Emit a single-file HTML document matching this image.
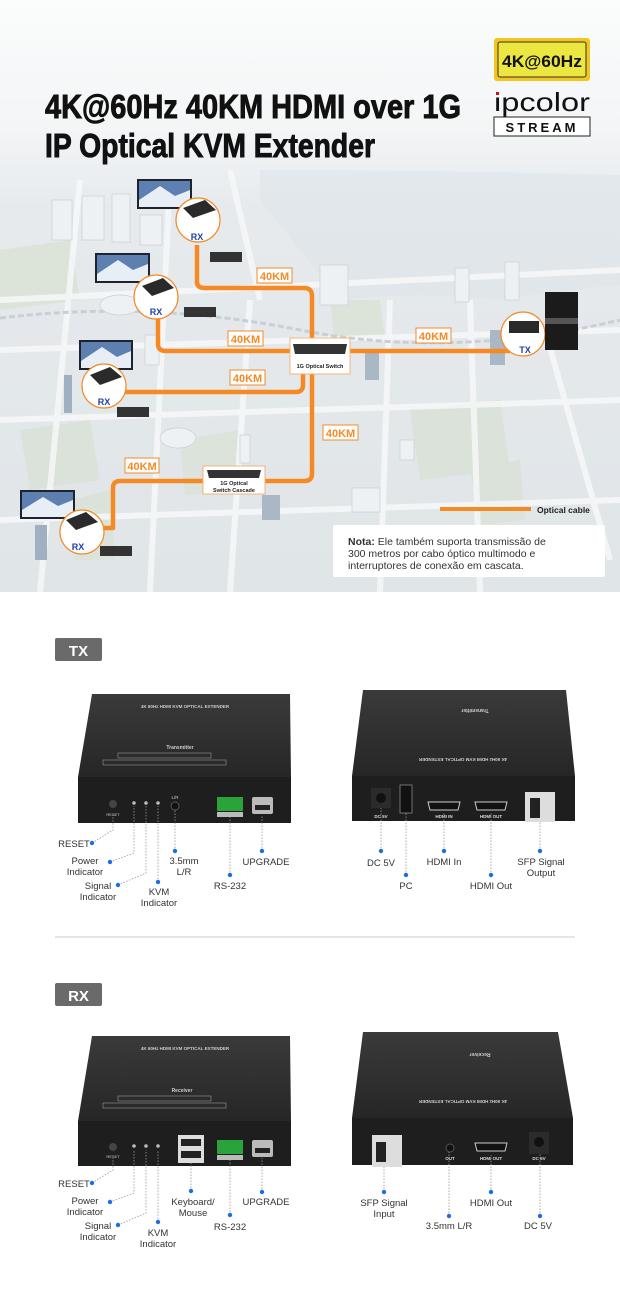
<!DOCTYPE html>
<html><head><meta charset="utf-8"><style>
html,body{margin:0;padding:0;background:#fff}
body{width:620px;height:1294px;overflow:hidden;font-family:"Liberation Sans",sans-serif}
</style></head><body>
<svg width="620" height="1294" viewBox="0 0 620 1294" xmlns="http://www.w3.org/2000/svg" font-family="Liberation Sans, sans-serif">
<defs>
<linearGradient id="hdr" x1="0" y1="0" x2="0" y2="1">
<stop offset="0" stop-color="#fbfcfc"/><stop offset="0.22" stop-color="#f3f5f6"/><stop offset="0.35" stop-color="#e6eaed"/><stop offset="1" stop-color="#e0e5e8"/>
</linearGradient>
<linearGradient id="top" x1="0" y1="0" x2="0" y2="1"><stop offset="0" stop-color="#3a3a3a"/><stop offset="1" stop-color="#262626"/></linearGradient>
</defs>
<rect x="0" y="0" width="620" height="592" fill="url(#hdr)"/>
<!-- water -->
<path d="M260 170 Q420 170 620 175 L620 285 Q560 290 500 300 Q420 290 340 300 L260 200Z" fill="#dde4e9" opacity="0.6"/>
<!-- green patches -->
<g fill="#d9e2d6" opacity="0.8">
<path d="M0 250 L70 240 L80 300 L0 310Z"/><path d="M20 430 L90 420 L100 480 L30 490Z"/>
<path d="M410 410 L500 400 L510 470 L420 480Z"/><path d="M470 470 L520 460 L525 520 L480 525Z"/>
<path d="M330 300 L380 300 L385 340 L335 345Z"/><path d="M70 500 L110 490 L115 560 L75 560Z"/>
<path d="M180 440 L240 430 L245 490 L185 495Z"/>
</g>
<!-- roads -->
<g stroke="#f5f7f8" stroke-width="6" fill="none" opacity="0.9">
<path d="M0 300 L620 270"/><path d="M0 420 L620 400"/><path d="M0 520 L620 500"/>
<path d="M80 180 L40 592"/><path d="M170 180 L150 592"/><path d="M250 300 L230 592"/>
<path d="M390 300 L380 592"/><path d="M470 300 L480 592"/><path d="M545 330 L610 560"/>
<path d="M0 350 L620 330"/><path d="M230 170 L260 300"/>
</g>
<path d="M0 318 Q150 300 300 330 Q450 360 620 320" stroke="#c9d0d4" stroke-width="3" fill="none" stroke-dasharray="6 3"/>
<!-- buildings -->
<g fill="#eef1f3" stroke="#c7cfd4" stroke-width="0.7">
<rect x="52" y="200" width="20" height="40"/><rect x="82" y="196" width="22" height="44"/><rect x="112" y="194" width="18" height="48"/>
<rect x="140" y="215" width="22" height="30"/><rect x="320" y="265" width="28" height="40"/><rect x="455" y="268" width="14" height="34"/>
<rect x="505" y="262" width="14" height="38"/><rect x="400" y="440" width="14" height="20"/><rect x="352" y="488" width="28" height="24"/>
<rect x="240" y="435" width="10" height="28"/><rect x="145" y="335" width="14" height="30"/>
<ellipse cx="178" cy="438" rx="18" ry="10"/><ellipse cx="120" cy="305" rx="20" ry="10"/>
</g>
<rect x="35" y="525" width="12" height="35" fill="#9fb1c0"/>
<rect x="64" y="375" width="8" height="38" fill="#9fb1c0"/>
<rect x="490" y="330" width="15" height="35" fill="#a9b8c4"/>
<rect x="365" y="350" width="14" height="30" fill="#a9b8c4"/>
<rect x="262" y="495" width="18" height="25" fill="#a9b8c4"/>
<!-- title -->
<g font-weight="bold" fill="#111" font-size="33" stroke="#111" stroke-width="0.9" font-family="Liberation Sans Narrow, Liberation Sans, sans-serif">
<text x="45" y="118" textLength="416" lengthAdjust="spacingAndGlyphs">4K@60Hz 40KM HDMI over 1G</text>
<text x="45" y="157" textLength="330" lengthAdjust="spacingAndGlyphs">IP Optical KVM Extender</text>
</g>
<rect x="494" y="38" width="96" height="43" rx="3" fill="#f2c51f"/>
<rect x="498" y="42" width="88" height="35" rx="2" fill="#ece640" stroke="#333" stroke-width="1"/>
<text x="542" y="67" text-anchor="middle" font-size="17" font-weight="bold" fill="#111" textLength="80" lengthAdjust="spacingAndGlyphs">4K@60Hz</text>
<text x="542" y="111" text-anchor="middle" font-size="26" fill="#111" textLength="96" lengthAdjust="spacingAndGlyphs">ipcolor</text>
<rect x="496" y="92" width="3" height="3" fill="#d01010"/>
<rect x="494" y="117" width="96" height="19" fill="#fff" stroke="#222" stroke-width="1"/>
<text x="542" y="132" text-anchor="middle" font-size="13" font-weight="bold" fill="#111" letter-spacing="3">STREAM</text>
<!-- orange cables -->
<g stroke="#f58a25" stroke-width="4.5" fill="none" stroke-linejoin="round">
<path d="M197 245 L197 282 Q197 288 205 288 L304 288 Q312 288 312 296 L312 474 Q312 481 304 481 L120 481 Q113 481 113 488 L113 528 L104 528"/>
<path d="M158 318 L158 344 Q158 351 166 351 L510 351"/>
<path d="M125 392 L296 392 Q303 392 303 385 L303 370"/>
</g>
<!-- 40KM labels -->
<g font-size="11" font-weight="bold" fill="#f58a25">
<rect x="257" y="268" width="35" height="15" fill="#fff" stroke="#f58a25"/><text x="274.5" y="280" text-anchor="middle">40KM</text>
<rect x="228" y="331" width="35" height="15" fill="#fff" stroke="#f58a25"/><text x="245.5" y="343" text-anchor="middle">40KM</text>
<rect x="230" y="370" width="35" height="15" fill="#fff" stroke="#f58a25"/><text x="247.5" y="382" text-anchor="middle">40KM</text>
<rect x="416" y="328" width="35" height="15" fill="#fff" stroke="#f58a25"/><text x="433.5" y="340" text-anchor="middle">40KM</text>
<rect x="323" y="425" width="35" height="15" fill="#fff" stroke="#f58a25"/><text x="340.5" y="437" text-anchor="middle">40KM</text>
<rect x="125" y="458" width="34" height="15" fill="#fff" stroke="#f58a25"/><text x="142" y="470" text-anchor="middle">40KM</text>
</g>
<!-- switches -->
<rect x="290" y="338" width="60" height="36" fill="#fff" stroke="#f3b27a"/>
<path d="M293 344 L347 344 L345 354 L295 354Z" fill="#333"/>
<text x="320" y="368" text-anchor="middle" font-size="5.5" font-weight="bold" fill="#222">1G Optical Switch</text>
<rect x="203" y="466" width="62" height="28" fill="#fff" stroke="#f3b27a"/>
<path d="M207 470 L261 470 L259 478 L209 478Z" fill="#333"/>
<text x="234" y="485" text-anchor="middle" font-size="5.5" font-weight="bold" fill="#222">1G Optical</text>
<text x="234" y="492" text-anchor="middle" font-size="5.5" font-weight="bold" fill="#222">Switch Cascade</text>
<!-- monitors -->
<g>
<rect x="137" y="179" width="55" height="30" fill="#1d2330"/><rect x="139" y="181" width="51" height="26" fill="#5d80b0"/><path d="M139 200 L160 186 L175 196 L190 190 L190 207 L139 207Z" fill="#e8eef5"/>
<rect x="95" y="253" width="55" height="30" fill="#1d2330"/><rect x="97" y="255" width="51" height="26" fill="#5d80b0"/><path d="M97 274 L118 260 L133 270 L148 264 L148 281 L97 281Z" fill="#e8eef5"/>
<rect x="79" y="340" width="54" height="30" fill="#1d2330"/><rect x="81" y="342" width="50" height="26" fill="#5d80b0"/><path d="M81 361 L102 347 L117 357 L131 351 L131 368 L81 368Z" fill="#e8eef5"/>
<rect x="20" y="490" width="55" height="29" fill="#1d2330"/><rect x="22" y="492" width="51" height="25" fill="#5d80b0"/><path d="M22 510 L43 497 L58 506 L73 500 L73 517 L22 517Z" fill="#e8eef5"/>
</g>
<!-- bubbles -->
<g fill="#fff" stroke="#f58a25" stroke-width="1.2">
<circle cx="198" cy="220" r="22"/><circle cx="156" cy="297" r="22"/><circle cx="104" cy="386" r="22"/><circle cx="82" cy="532" r="22"/><circle cx="523" cy="334" r="22"/>
</g>
<g fill="#2a2a2a">
<path d="M183 208 L205 200 L216 210 L193 218Z"/><path d="M142 286 L163 278 L174 288 L152 296Z"/><path d="M90 375 L110 367 L122 377 L100 385Z"/><path d="M66 520 L86 512 L98 522 L76 530Z"/><rect x="509" y="321" width="30" height="12"/>
</g>
<g font-size="9" font-weight="bold" fill="#1f3fa8" text-anchor="middle">
<text x="197" y="240">RX</text><text x="156" y="315">RX</text><text x="104" y="405">RX</text><text x="78" y="550">RX</text><text x="525" y="353">TX</text>
</g>
<!-- keyboards -->
<g fill="#333"><rect x="210" y="252" width="32" height="10"/><rect x="184" y="307" width="32" height="10"/><rect x="117" y="407" width="32" height="10"/><rect x="100" y="546" width="32" height="10"/></g>
<!-- PC -->
<rect x="545" y="292" width="33" height="58" fill="#1b1b1b"/><rect x="545" y="318" width="33" height="6" fill="#555"/>
<!-- legend -->
<line x1="440" y1="509" x2="531" y2="509" stroke="#f58a25" stroke-width="4"/>
<text x="537" y="513" font-size="8.5" font-weight="bold" fill="#222">Optical cable</text>
<rect x="333" y="525" width="272" height="52" rx="2" fill="#fff"/>
<g font-size="10.5" fill="#333"><text x="348" y="545"><tspan font-weight="bold">Nota:</tspan> Ele também suporta transmissão de</text><text x="348" y="557">300 metros por cabo óptico multimodo e</text><text x="348" y="569">interruptores de conexão em cascata.</text></g>

<!-- TX tag -->
<rect x="55" y="638" width="47" height="23" rx="2" fill="#6a6a6a"/>
<text x="78.5" y="656" text-anchor="middle" font-size="15" font-weight="bold" fill="#fff">TX</text>
<line x1="55" y1="937" x2="575" y2="937" stroke="#e6e6e6" stroke-width="2"/>
<rect x="55" y="983" width="47" height="23" rx="2" fill="#6a6a6a"/>
<text x="78.5" y="1001" text-anchor="middle" font-size="15" font-weight="bold" fill="#fff">RX</text>

<g>
<!-- TX left -->
<path d="M92 694 L290 694 L291 777 L78 777Z" fill="url(#top)"/>
<rect x="78" y="777" width="213" height="46" fill="#1e1e1e"/>
<text x="185" y="708" text-anchor="middle" font-size="4.5" font-weight="bold" fill="#ccc">4K 60Hz HDMI KVM OPTICAL EXTENDER</text>
<text x="180" y="749" text-anchor="middle" font-size="5" font-weight="bold" fill="#ccc">Transmitter</text>
<rect x="118" y="753" width="93" height="5" fill="none" stroke="#aaa" stroke-width="0.5"/><rect x="103" y="760" width="123" height="5" fill="none" stroke="#aaa" stroke-width="0.5"/>
<circle cx="113" cy="804" r="4" fill="#444"/><text x="113" y="816" font-size="4" fill="#ccc" text-anchor="middle">RESET</text>
<g fill="#bbb"><circle cx="134" cy="803" r="1.8"/><circle cx="146" cy="803" r="1.8"/><circle cx="158" cy="803" r="1.8"/></g>
<circle cx="175" cy="806" r="4" fill="#111" stroke="#555"/><text x="175" y="799" font-size="4.5" fill="#ccc" text-anchor="middle">L/R</text>
<rect x="217" y="797" width="26" height="14" fill="#2aa33a"/><rect x="217" y="812" width="26" height="5" fill="#bbb"/>
<rect x="252" y="797" width="21" height="17" rx="2" fill="#bbb"/><rect x="255" y="805" width="15" height="5" fill="#222"/>
<!-- TX right -->
<path d="M363 690 L566 690 L575 776 L352 776Z" fill="url(#top)"/>
<rect x="352" y="776" width="223" height="45" fill="#1e1e1e"/>
<text x="463" y="762" text-anchor="middle" font-size="4.5" font-weight="bold" fill="#ccc" transform="rotate(180 463 760)">4K 60Hz HDMI KVM OPTICAL EXTENDER</text>
<text x="475" y="713" text-anchor="middle" font-size="5" font-weight="bold" fill="#ccc" transform="rotate(180 475 711)">Transmitter</text>
<rect x="371" y="788" width="20" height="20" fill="#2b2b2b"/><circle cx="381" cy="798" r="5" fill="#111"/>
<rect x="400" y="785" width="12" height="28" fill="#111" stroke="#888" stroke-width="0.8"/>
<path d="M428 802 L460 802 L458 810 L430 810Z" fill="#111" stroke="#ccc"/>
<path d="M475 802 L507 802 L505 810 L477 810Z" fill="#111" stroke="#ccc"/>
<rect x="525" y="792" width="30" height="30" fill="#ddd"/><rect x="530" y="798" width="10" height="20" fill="#222"/>
<g font-size="4.5" fill="#ddd" font-weight="bold" text-anchor="middle"><text x="381" y="818">DC 5V</text><text x="444" y="818">HDMI IN</text><text x="491" y="818">HDMI OUT</text></g>
<!-- RX left -->
<path d="M92 1036 L290 1036 L291 1121 L78 1121Z" fill="url(#top)"/>
<rect x="78" y="1121" width="213" height="45" fill="#1e1e1e"/>
<text x="185" y="1050" text-anchor="middle" font-size="4.5" font-weight="bold" fill="#ccc">4K 60Hz HDMI KVM OPTICAL EXTENDER</text>
<text x="182" y="1092" text-anchor="middle" font-size="5" font-weight="bold" fill="#ccc">Receiver</text>
<rect x="118" y="1096" width="93" height="5" fill="none" stroke="#aaa" stroke-width="0.5"/><rect x="103" y="1103" width="123" height="5" fill="none" stroke="#aaa" stroke-width="0.5"/>
<circle cx="113" cy="1147" r="4" fill="#444"/><text x="113" y="1158" font-size="4" fill="#ccc" text-anchor="middle">RESET</text>
<g fill="#bbb"><circle cx="134" cy="1146" r="1.8"/><circle cx="146" cy="1146" r="1.8"/><circle cx="158" cy="1146" r="1.8"/></g>
<rect x="178" y="1135" width="26" height="28" fill="#ddd"/><rect x="181" y="1139" width="20" height="7" fill="#222"/><rect x="181" y="1151" width="20" height="7" fill="#222"/>
<rect x="217" y="1140" width="26" height="14" fill="#2aa33a"/><rect x="217" y="1155" width="26" height="5" fill="#bbb"/>
<rect x="252" y="1140" width="21" height="17" rx="2" fill="#bbb"/><rect x="255" y="1148" width="15" height="5" fill="#222"/>
<!-- RX right -->
<path d="M363 1032 L558 1032 L573 1118 L352 1118Z" fill="url(#top)"/>
<rect x="352" y="1118" width="221" height="47" fill="#1e1e1e"/>
<text x="463" y="1104" text-anchor="middle" font-size="4.5" font-weight="bold" fill="#ccc" transform="rotate(180 463 1102)">4K 60Hz HDMI KVM OPTICAL EXTENDER</text>
<text x="480" y="1057" text-anchor="middle" font-size="5" font-weight="bold" fill="#ccc" transform="rotate(180 480 1055)">Receiver</text>
<rect x="372" y="1135" width="30" height="32" fill="#ddd"/><rect x="376" y="1142" width="10" height="20" fill="#222"/>
<circle cx="450" cy="1148" r="4" fill="#111" stroke="#555"/>
<path d="M475 1143 L507 1143 L505 1151 L477 1151Z" fill="#111" stroke="#ccc"/>
<rect x="529" y="1132" width="20" height="22" fill="#2b2b2b"/><circle cx="539" cy="1142" r="5" fill="#111"/>
<g font-size="4.5" fill="#ddd" font-weight="bold" text-anchor="middle"><text x="450" y="1160">OUT</text><text x="491" y="1160">HDMI OUT</text><text x="539" y="1160">DC 5V</text></g>
</g>

<!-- callout lines -->
<g stroke="#999" stroke-width="0.8" stroke-dasharray="1.5 1.5" fill="none">
<path d="M92 843 L113 830 L113 815"/><path d="M110 862 L134 853 L134 806"/><path d="M118 885 L146 873 L146 806"/><path d="M158 882 L158 806"/><path d="M175 851 L175 810"/><path d="M230 875 L230 817"/><path d="M262 851 L262 815"/>
<path d="M381 851 L381 808"/><path d="M406 875 L406 813"/><path d="M444 851 L444 812"/><path d="M491 875 L491 812"/><path d="M540 851 L540 822"/>
<path d="M92 1183 L113 1170 L113 1158"/><path d="M110 1202 L134 1193 L134 1150"/><path d="M118 1225 L146 1213 L146 1150"/><path d="M158 1222 L158 1150"/><path d="M191 1191 L191 1163"/><path d="M230 1215 L230 1160"/><path d="M262 1192 L262 1158"/>
<path d="M384 1192 L384 1167"/><path d="M449 1216 L449 1152"/><path d="M491 1192 L491 1155"/><path d="M540 1216 L540 1154"/>
</g>
<g fill="#1a6fe0">
<circle cx="92" cy="843" r="2.2"/><circle cx="110" cy="862" r="2.2"/><circle cx="118" cy="885" r="2.2"/><circle cx="158" cy="882" r="2.2"/><circle cx="175" cy="851" r="2.2"/><circle cx="230" cy="875" r="2.2"/><circle cx="262" cy="851" r="2.2"/>
<circle cx="381" cy="851" r="2.2"/><circle cx="406" cy="875" r="2.2"/><circle cx="444" cy="851" r="2.2"/><circle cx="491" cy="875" r="2.2"/><circle cx="540" cy="851" r="2.2"/>
<circle cx="92" cy="1183" r="2.2"/><circle cx="110" cy="1202" r="2.2"/><circle cx="118" cy="1225" r="2.2"/><circle cx="158" cy="1222" r="2.2"/><circle cx="191" cy="1191" r="2.2"/><circle cx="230" cy="1215" r="2.2"/><circle cx="262" cy="1192" r="2.2"/>
<circle cx="384" cy="1192" r="2.2"/><circle cx="449" cy="1216" r="2.2"/><circle cx="491" cy="1192" r="2.2"/><circle cx="540" cy="1216" r="2.2"/>
</g>
<g font-size="9.5" fill="#333" text-anchor="middle">
<text x="74" y="847">RESET</text><text x="85" y="864">Power</text><text x="85" y="875">Indicator</text>
<text x="98" y="889">Signal</text><text x="98" y="900">Indicator</text><text x="159" y="895">KVM</text><text x="159" y="906">Indicator</text>
<text x="184" y="864">3.5mm</text><text x="184" y="875">L/R</text><text x="230" y="889">RS-232</text><text x="266" y="865">UPGRADE</text>
<text x="381" y="866">DC 5V</text><text x="406" y="889">PC</text><text x="444" y="865">HDMI In</text><text x="491" y="889">HDMI Out</text>
<text x="541" y="865">SFP Signal</text><text x="541" y="876">Output</text>
<text x="74" y="1187">RESET</text><text x="85" y="1204">Power</text><text x="85" y="1215">Indicator</text>
<text x="98" y="1229">Signal</text><text x="98" y="1240">Indicator</text><text x="158" y="1236">KVM</text><text x="158" y="1247">Indicator</text>
<text x="193" y="1205">Keyboard/</text><text x="193" y="1216">Mouse</text><text x="230" y="1230">RS-232</text><text x="266" y="1205">UPGRADE</text>
<text x="384" y="1206">SFP Signal</text><text x="384" y="1217">Input</text><text x="449" y="1229">3.5mm L/R</text><text x="491" y="1206">HDMI Out</text><text x="538" y="1229">DC 5V</text>
</g>
</svg>
</body></html>
